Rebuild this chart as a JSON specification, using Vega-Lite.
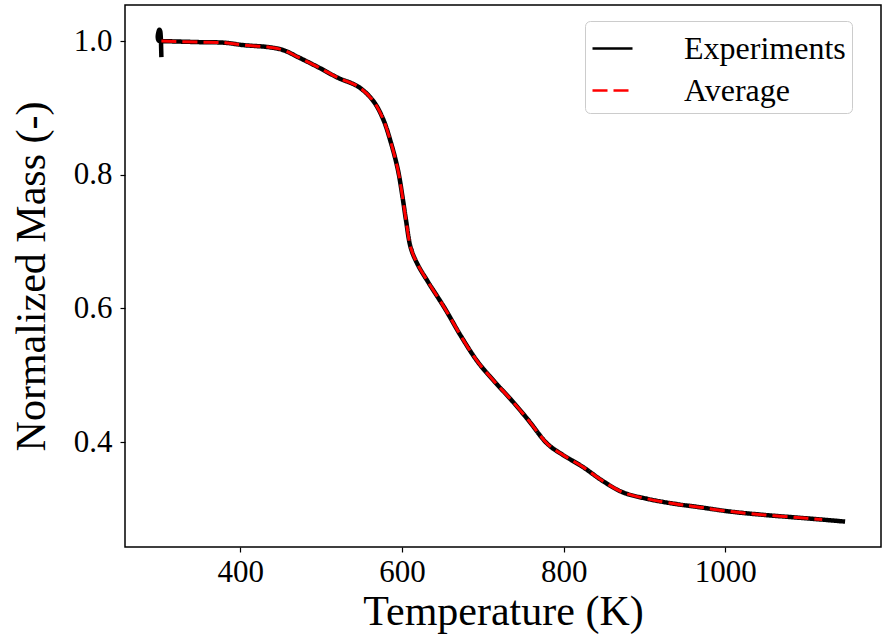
{
  "$schema": "https://vega.github.io/schema/vega-lite/v6.json",
  "width": 756,
  "height": 542,
  "autosize": {"type": "none"},
  "padding": {"left": 125, "top": 5, "right": 7, "bottom": 94},
  "background": "white",
  "config": {
    "font": "Liberation Serif",
    "view": {"stroke": "black", "strokeWidth": 1.5},
    "axis": {"grid": false, "domain": false, "tickColor": "black", "tickSize": 5, "tickWidth": 1.2, "labelColor": "black", "titleColor": "black", "labelFont": "Liberation Serif", "titleFont": "Liberation Serif", "labelFontSize": 31, "titleFontSize": 42, "titleFontWeight": "normal"}
  },
  "datasets": {
    "exp": [
      {"series": "Experiments", "i": 0, "T": 302.5, "m": 0.976},
      {"series": "Experiments", "i": 1, "T": 302.2, "m": 0.99},
      {"series": "Experiments", "i": 2, "T": 301.8, "m": 1.005},
      {"series": "Experiments", "i": 3, "T": 301.0, "m": 1.015},
      {"series": "Experiments", "i": 4, "T": 300.0, "m": 1.017},
      {"series": "Experiments", "i": 5, "T": 298.8, "m": 1.013},
      {"series": "Experiments", "i": 6, "T": 298.0, "m": 1.006},
      {"series": "Experiments", "i": 7, "T": 299.0, "m": 1.001},
      {"series": "Experiments", "i": 8, "T": 301.0, "m": 1.0},
      {"series": "Experiments", "i": 9, "T": 302.5, "m": 1.0},
      {"series": "Experiments", "i": 10, "T": 348.1, "m": 0.9985},
      {"series": "Experiments", "i": 11, "T": 381.5, "m": 0.9975},
      {"series": "Experiments", "i": 12, "T": 403.7, "m": 0.994},
      {"series": "Experiments", "i": 13, "T": 434.6, "m": 0.991},
      {"series": "Experiments", "i": 14, "T": 453.1, "m": 0.9866},
      {"series": "Experiments", "i": 15, "T": 471.6, "m": 0.976},
      {"series": "Experiments", "i": 16, "T": 496.3, "m": 0.961},
      {"series": "Experiments", "i": 17, "T": 521.0, "m": 0.945},
      {"series": "Experiments", "i": 18, "T": 545.7, "m": 0.932},
      {"series": "Experiments", "i": 19, "T": 564.2, "m": 0.911},
      {"series": "Experiments", "i": 20, "T": 576.5, "m": 0.884},
      {"series": "Experiments", "i": 21, "T": 586.4, "m": 0.848},
      {"series": "Experiments", "i": 22, "T": 595.1, "m": 0.807},
      {"series": "Experiments", "i": 23, "T": 601.2, "m": 0.763},
      {"series": "Experiments", "i": 24, "T": 604.9, "m": 0.733},
      {"series": "Experiments", "i": 25, "T": 611.1, "m": 0.69},
      {"series": "Experiments", "i": 26, "T": 619.8, "m": 0.665},
      {"series": "Experiments", "i": 27, "T": 632.1, "m": 0.64},
      {"series": "Experiments", "i": 28, "T": 653.1, "m": 0.6},
      {"series": "Experiments", "i": 29, "T": 672.8, "m": 0.559},
      {"series": "Experiments", "i": 30, "T": 693.8, "m": 0.52},
      {"series": "Experiments", "i": 31, "T": 714.8, "m": 0.49},
      {"series": "Experiments", "i": 32, "T": 734.6, "m": 0.464},
      {"series": "Experiments", "i": 33, "T": 755.6, "m": 0.434},
      {"series": "Experiments", "i": 34, "T": 780.2, "m": 0.397},
      {"series": "Experiments", "i": 35, "T": 798.8, "m": 0.381},
      {"series": "Experiments", "i": 36, "T": 823.5, "m": 0.363},
      {"series": "Experiments", "i": 37, "T": 848.1, "m": 0.342},
      {"series": "Experiments", "i": 38, "T": 872.8, "m": 0.325},
      {"series": "Experiments", "i": 39, "T": 903.7, "m": 0.315},
      {"series": "Experiments", "i": 40, "T": 940.7, "m": 0.307},
      {"series": "Experiments", "i": 41, "T": 965.4, "m": 0.303},
      {"series": "Experiments", "i": 42, "T": 1006.2, "m": 0.296},
      {"series": "Experiments", "i": 43, "T": 1048.1, "m": 0.291},
      {"series": "Experiments", "i": 44, "T": 1088.9, "m": 0.287},
      {"series": "Experiments", "i": 45, "T": 1119.8, "m": 0.284},
      {"series": "Experiments", "i": 46, "T": 1148.1, "m": 0.281}
    ],
    "avg": [
      {"series": "Average", "i": 0, "T": 302.5, "m": 1.0},
      {"series": "Average", "i": 1, "T": 348.1, "m": 0.9985},
      {"series": "Average", "i": 2, "T": 381.5, "m": 0.9975},
      {"series": "Average", "i": 3, "T": 403.7, "m": 0.994},
      {"series": "Average", "i": 4, "T": 434.6, "m": 0.991},
      {"series": "Average", "i": 5, "T": 453.1, "m": 0.9866},
      {"series": "Average", "i": 6, "T": 471.6, "m": 0.976},
      {"series": "Average", "i": 7, "T": 496.3, "m": 0.961},
      {"series": "Average", "i": 8, "T": 521.0, "m": 0.945},
      {"series": "Average", "i": 9, "T": 545.7, "m": 0.932},
      {"series": "Average", "i": 10, "T": 564.2, "m": 0.911},
      {"series": "Average", "i": 11, "T": 576.5, "m": 0.884},
      {"series": "Average", "i": 12, "T": 586.4, "m": 0.848},
      {"series": "Average", "i": 13, "T": 595.1, "m": 0.807},
      {"series": "Average", "i": 14, "T": 601.2, "m": 0.763},
      {"series": "Average", "i": 15, "T": 604.9, "m": 0.733},
      {"series": "Average", "i": 16, "T": 611.1, "m": 0.69},
      {"series": "Average", "i": 17, "T": 619.8, "m": 0.665},
      {"series": "Average", "i": 18, "T": 632.1, "m": 0.64},
      {"series": "Average", "i": 19, "T": 653.1, "m": 0.6},
      {"series": "Average", "i": 20, "T": 672.8, "m": 0.559},
      {"series": "Average", "i": 21, "T": 693.8, "m": 0.52},
      {"series": "Average", "i": 22, "T": 714.8, "m": 0.49},
      {"series": "Average", "i": 23, "T": 734.6, "m": 0.464},
      {"series": "Average", "i": 24, "T": 755.6, "m": 0.434},
      {"series": "Average", "i": 25, "T": 780.2, "m": 0.397},
      {"series": "Average", "i": 26, "T": 798.8, "m": 0.381},
      {"series": "Average", "i": 27, "T": 823.5, "m": 0.363},
      {"series": "Average", "i": 28, "T": 848.1, "m": 0.342},
      {"series": "Average", "i": 29, "T": 872.8, "m": 0.325},
      {"series": "Average", "i": 30, "T": 903.7, "m": 0.315},
      {"series": "Average", "i": 31, "T": 940.7, "m": 0.307},
      {"series": "Average", "i": 32, "T": 965.4, "m": 0.303},
      {"series": "Average", "i": 33, "T": 1006.2, "m": 0.296},
      {"series": "Average", "i": 34, "T": 1048.1, "m": 0.291},
      {"series": "Average", "i": 35, "T": 1088.9, "m": 0.287},
      {"series": "Average", "i": 36, "T": 1119.8, "m": 0.284}
    ]
  },
  "encoding": {
    "x": {"field": "T", "type": "quantitative", "scale": {"domain": [257.5, 1192.5], "nice": false, "zero": false}, "axis": {"values": [400, 600, 800, 1000], "format": "d", "title": "Temperature (K)", "labelPadding": 5, "titlePadding": 4}},
    "y": {"field": "m", "type": "quantitative", "scale": {"domain": [0.243, 1.054], "nice": false, "zero": false}, "axis": {"values": [0.4, 0.6, 0.8, 1.0], "format": ".1f", "title": "Normalized Mass (-)", "labelPadding": 8, "titlePadding": 20}},
    "order": {"field": "i", "type": "quantitative"},
    "color": {"field": "series", "type": "nominal", "scale": {"domain": ["Experiments", "Average"], "range": ["black", "red"]},
      "legend": {"title": null, "orient": "none", "legendX": 460, "legendY": 16, "symbolType": "stroke", "symbolSize": 1600, "symbolStrokeWidth": 2.5, "labelFontSize": 32, "labelFont": "Liberation Serif", "labelColor": "black", "labelOffset": 50, "labelLimit": 400, "rowPadding": 4, "padding": 6, "fillColor": "white", "strokeColor": "#cccccc", "cornerRadius": 5}},
    "strokeDash": {"field": "series", "type": "nominal", "scale": {"domain": ["Experiments", "Average"], "range": [[1, 0], [15, 6]]}}
  },
  "layer": [
    {
      "data": {"name": "exp"},
      "mark": {"type": "line", "strokeWidth": 4.5, "interpolate": "catmull-rom", "clip": true}
    },
    {
      "data": {"name": "avg"},
      "mark": {"type": "line", "strokeWidth": 3, "interpolate": "catmull-rom", "clip": true}
    }
  ]
}
